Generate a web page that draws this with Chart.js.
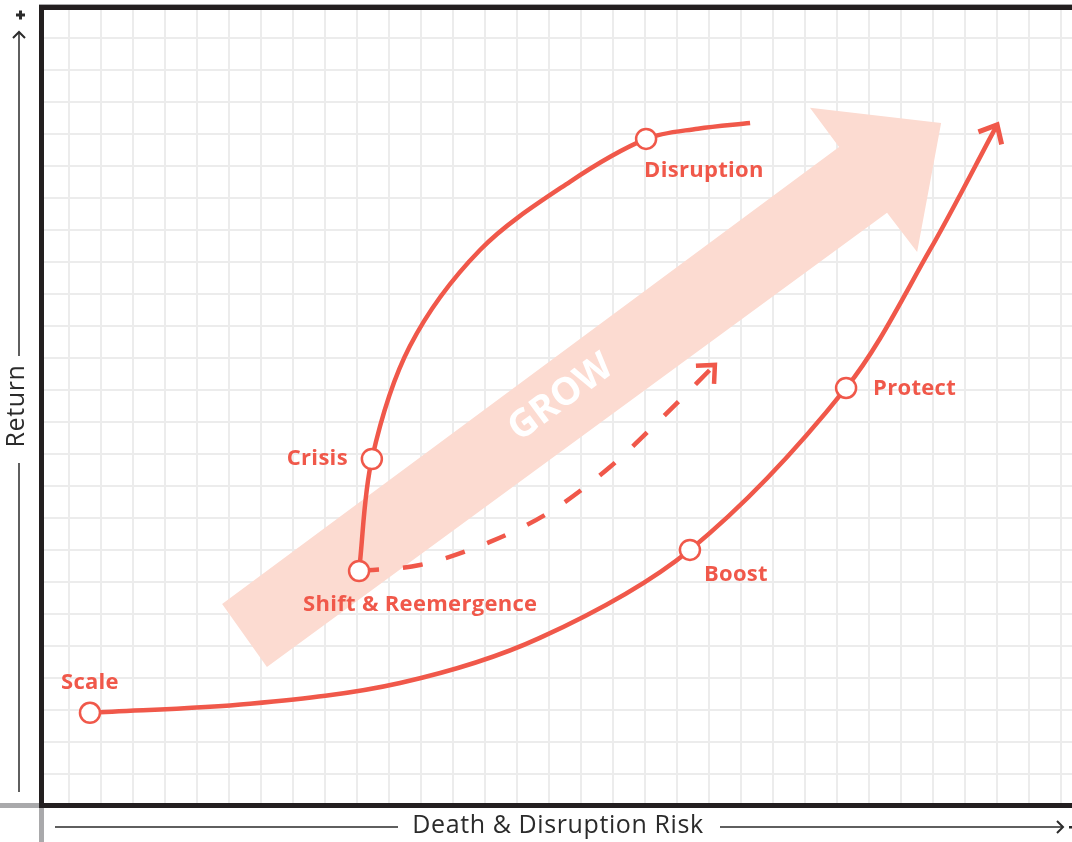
<!DOCTYPE html>
<html>
<head>
<meta charset="utf-8">
<title>Return vs Death & Disruption Risk</title>
<script src="https://cdn.jsdelivr.net/npm/chart.js@4.4.1/dist/chart.umd.min.js"></script>
<style>
  html, body { margin: 0; padding: 0; background: #fff; }
  #wrap { width: 1072px; height: 842px; position: relative; }
</style>
</head>
<body>
<div id="wrap"><canvas id="chart"></canvas></div>
<script>
// Positions are in grid cells, measured from the corner where the axes meet

// Stages marked with a circle
const stageNames  = ['Scale', 'Boost', 'Protect', 'Shift & Reemergence', 'Crisis', 'Disruption'];
const stageRisk   = [1.53, 20.28, 25.16, 9.94, 10.34, 18.91];
const stageReturn = [2.88, 7.97, 13.03, 7.31, 10.81, 20.81];

// Main path: Scale -> Boost -> Protect, ending in an arrow
const mainRisk   = [1.53, 6.53, 11.22, 15.59, 20.28, 25.16, 27.78, 29.88];
const mainReturn = [2.88, 3.16, 3.81, 5.22, 7.97, 13.03, 17.34, 21.25];

// Crisis path: Shift & Reemergence -> Crisis -> Disruption
const crisisRisk   = [9.94, 10.34, 11.53, 13.72, 16.53, 18.91, 20.53, 22.16];
const crisisReturn = [7.31, 10.81, 14.34, 17.34, 19.47, 20.81, 21.13, 21.31];

// Dashed recovery path out of Shift & Reemergence
const recoverRisk   = [9.94, 11.84, 14.03, 15.91, 17.78, 19.34, 21.06];
const recoverReturn = [7.31, 7.5, 8.22, 9.16, 10.56, 12.03, 13.75];

// Outline of the wide GROW arrow
const growRisk   = [5.66, 24.94, 24.03, 28.13, 27.38, 26.44, 7.06];
const growReturn = [6.28, 20.56, 21.78, 21.31, 17.28, 18.5, 4.31];

const red = '#f0584a';
const peach = '#fcdbd1';
const ink = '#231f20';
const labelFont = 'bold 22px "Open Sans", sans-serif';

// where each stage label sits relative to its marker
const labelPlacement = {
  'Scale':               { dx: 0,   dy: -30, align: 'center' },
  'Boost':               { dx: 14,  dy: 25,  align: 'left' },
  'Protect':             { dx: 27,  dy: 1,   align: 'left' },
  'Shift & Reemergence': { dx: -56, dy: 34,  align: 'left' },
  'Crisis':              { dx: -24, dy: 0,   align: 'right' },
  'Disruption':          { dx: -2,  dy: 32,  align: 'left' }
};

function pts(xs, ys) {
  return xs.map((x, i) => ({ x: x, y: ys[i] }));
}

function gridTicks(offset, max) {
  const ticks = [];
  for (let v = offset; v <= max; v += 1) ticks.push({ value: v });
  return ticks;
}

function arrowHead(c, meta, len, spread, width) {
  const p = meta.data;
  const tip = p[p.length - 1];
  const prev = p[p.length - 2];
  const a = Math.atan2(tip.y - prev.y, tip.x - prev.x);
  c.save();
  c.strokeStyle = red;
  c.lineWidth = width;
  c.lineJoin = 'miter';
  c.lineCap = 'butt';
  c.beginPath();
  c.moveTo(tip.x - len * Math.cos(a - spread), tip.y - len * Math.sin(a - spread));
  c.lineTo(tip.x, tip.y);
  c.lineTo(tip.x - len * Math.cos(a + spread), tip.y - len * Math.sin(a + spread));
  c.stroke();
  c.restore();
}

const decorations = {
  id: 'decorations',
  beforeDatasetsDraw(chart) {
    const c = chart.ctx, xs = chart.scales.x, ys = chart.scales.y;
    const px = growRisk.map(v => xs.getPixelForValue(v));
    const py = growReturn.map(v => ys.getPixelForValue(v));
    c.save();
    c.fillStyle = peach;
    c.beginPath();
    px.forEach((x, i) => i ? c.lineTo(x, py[i]) : c.moveTo(x, py[i]));
    c.closePath();
    c.fill();

    // GROW written along the arrow shaft
    const bx = (px[0] + px[6]) / 2, by = (py[0] + py[6]) / 2;
    const nx = (px[1] + px[5]) / 2, ny = (py[1] + py[5]) / 2;
    const ang = Math.atan2(ny - by, nx - bx);
    c.translate(xs.getPixelForValue(16.25), ys.getPixelForValue(12.72));
    c.rotate(ang);
    c.fillStyle = '#ffffff';
    c.font = 'bold 38px "Open Sans", sans-serif';
    c.textAlign = 'center';
    c.textBaseline = 'middle';
    c.fillText('GROW', 0, 0);
    c.restore();
  },
  afterDatasetsDraw(chart) {
    const c = chart.ctx;
    arrowHead(c, chart.getDatasetMeta(1), 20, 0.72, 5);
    arrowHead(c, chart.getDatasetMeta(3), 19, 0.74, 4.5);

    const marks = chart.getDatasetMeta(0).data;
    c.save();
    c.fillStyle = red;
    c.font = labelFont;
    c.letterSpacing = '0.3px';
    c.textBaseline = 'middle';
    stageNames.forEach((name, i) => {
      const pl = labelPlacement[name];
      c.textAlign = pl.align;
      c.fillText(name, marks[i].x + pl.dx, marks[i].y + pl.dy);
    });
    c.restore();
  },
  afterDraw(chart) {
    const c = chart.ctx, a = chart.chartArea;
    c.save();
    // grey edge pieces past the frame
    c.fillStyle = '#a9a9ab';
    c.fillRect(0, a.bottom - 2, a.left - 2, 5);
    c.fillRect(a.left - 2, a.bottom + 2, 5, chart.height - a.bottom);
    c.fillRect(a.left - 2, a.top - 4, a.right - a.left + 2, 1);

    // black frame: top, left, bottom
    c.fillStyle = ink;
    c.fillRect(a.left - 2, a.top - 3, a.right - a.left + 2, 5);
    c.fillRect(a.left - 2, a.top - 3, 5, a.bottom - a.top + 5);
    c.fillRect(a.left - 2, a.bottom - 2, a.right - a.left + 2, 5);

    // axis titles with their arrows
    c.strokeStyle = '#2b2b2b';
    c.fillStyle = '#2b2b2b';
    c.lineWidth = 1.5;
    c.beginPath();
    c.moveTo(19, 33); c.lineTo(19, 356);
    c.moveTo(19, 463); c.lineTo(19, 792);
    c.moveTo(55, 827); c.lineTo(398, 827);
    c.moveTo(720, 827); c.lineTo(1063, 827);
    c.stroke();
    c.lineWidth = 2;
    c.beginPath();
    c.moveTo(13, 38); c.lineTo(19, 32); c.lineTo(25, 38);
    c.moveTo(1057, 821); c.lineTo(1063, 827); c.lineTo(1057, 833);
    c.stroke();
    // + and - ends
    c.fillRect(16, 13.5, 9, 3);
    c.fillRect(19, 10.5, 3, 9);
    c.fillRect(1069, 826, 3, 2.5);

    c.font = '25px "Open Sans", sans-serif';
    c.letterSpacing = '0.6px';
    c.textAlign = 'center';
    c.textBaseline = 'middle';
    c.fillText('Death & Disruption Risk', 558, 826);
    c.translate(17, 406);
    c.rotate(-Math.PI / 2);
    c.fillText('Return', 0, 0);
    c.restore();
  }
};

const ctx = document.getElementById('chart');
new Chart(ctx, {
  type: 'scatter',
  data: {
    datasets: [
      {
        label: 'Stages',
        data: pts(stageRisk, stageReturn),
        showLine: false,
        pointRadius: 10,
        pointBorderWidth: 2.5,
        pointBackgroundColor: '#ffffff',
        pointBorderColor: red
      },
      {
        label: 'Main path',
        data: pts(mainRisk, mainReturn),
        showLine: true,
        borderColor: red,
        borderWidth: 4.5,
        tension: 0.33,
        pointRadius: 0
      },
      {
        label: 'Crisis path',
        data: pts(crisisRisk, crisisReturn),
        showLine: true,
        borderColor: red,
        borderWidth: 4.5,
        tension: 0.33,
        pointRadius: 0
      },
      {
        label: 'Recovery',
        data: pts(recoverRisk, recoverReturn),
        showLine: true,
        borderColor: red,
        borderWidth: 4.5,
        borderDash: [20, 24],
        cubicInterpolationMode: 'monotone',
        pointRadius: 0
      }
    ]
  },
  options: {
    responsive: true,
    maintainAspectRatio: false,
    devicePixelRatio: 1,
    animation: false,
    events: [],
    layout: { autoPadding: false, padding: { left: 41, top: 8, right: 0, bottom: 37 } },
    plugins: {
      legend: { display: false },
      tooltip: { enabled: false }
    },
    scales: {
      x: {
        type: 'linear',
        min: 0,
        max: 32.22,
        afterBuildTicks: s => { s.ticks = gridTicks(0.875, 32.22); },
        ticks: { display: false },
        border: { display: false },
        grid: { color: '#ececec', lineWidth: 2, drawTicks: false }
      },
      y: {
        type: 'linear',
        min: 0,
        max: 24.9,
        afterBuildTicks: s => { s.ticks = gridTicks(0.97, 24.9); },
        ticks: { display: false },
        border: { display: false },
        grid: { color: '#ececec', lineWidth: 2, drawTicks: false }
      }
    }
  },
  plugins: [decorations]
});
</script>
</body>
</html>
